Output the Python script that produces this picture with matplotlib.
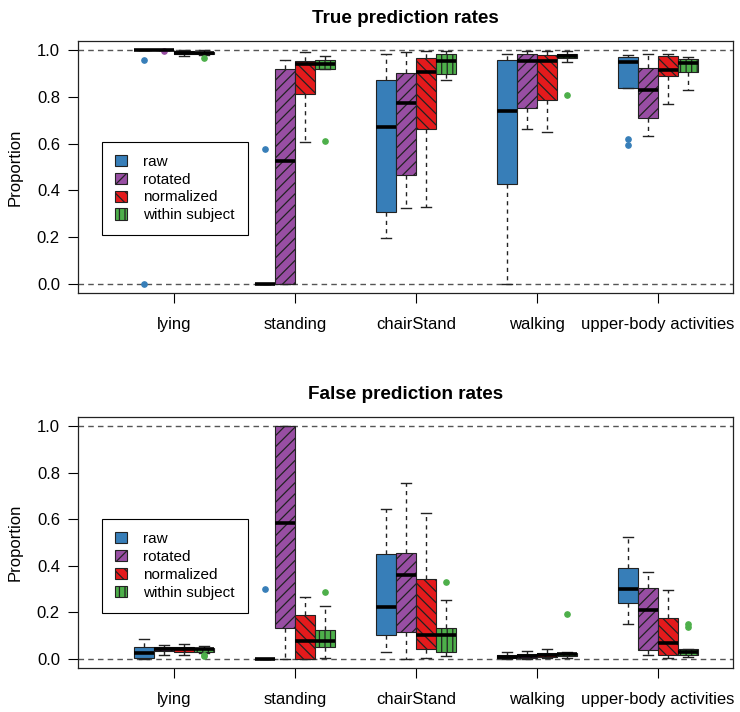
import matplotlib
matplotlib.use("Agg")
import matplotlib.pyplot as plt
from matplotlib.patches import Patch

plt.rcParams['font.family'] = ['Liberation Sans', 'DejaVu Sans']
plt.rcParams['hatch.linewidth'] = 0.9

categories = ["lying", "standing", "chairStand", "walking", "upper-body activities"]
methods = ["raw", "rotated", "normalized", "within subject"]
colors = ["#377EB8", "#984EA3", "#E41A1C", "#4DAF4A"]
hatches = ["", "///", "\\\\\\", "|||"]

# (whislo, q1, median, q3, whishi) per category
true_raw = [(1.0, 1.0, 1.0, 1.0, 1.0), (0.0, 0.0, 0.0, 0.0, 0.0),
            (0.195, 0.305, 0.670, 0.875, 0.983), (0.0, 0.427, 0.741, 0.960, 0.986),
            (0.840, 0.840, 0.949, 0.972, 0.982)]
true_raw_fliers = [[0.960, 0.0], [0.577], [], [], [0.621, 0.594]]
true_rotated = [(1.0, 1.0, 1.0, 1.0, 1.0), (0.0, 0.0, 0.527, 0.920, 0.957),
                (0.323, 0.465, 0.776, 0.903, 0.993), (0.662, 0.751, 0.954, 0.986, 0.997),
                (0.635, 0.712, 0.832, 0.926, 0.986)]
true_rotated_fliers = [[0.998], [], [], [], []]
true_normalized = [(0.975, 0.983, 0.99, 0.996, 1.0), (0.608, 0.815, 0.943, 0.954, 0.993),
                   (0.328, 0.662, 0.907, 0.969, 0.997), (0.650, 0.789, 0.954, 0.982, 0.997),
                   (0.772, 0.889, 0.917, 0.974, 0.983)]
true_normalized_fliers = [[], [], [], [], []]
true_within = [(0.98, 0.986, 0.99, 0.994, 1.0), (0.92, 0.922, 0.94, 0.957, 0.975),
               (0.872, 0.897, 0.954, 0.983, 0.997), (0.950, 0.969, 0.977, 0.986, 0.997),
               (0.829, 0.906, 0.946, 0.963, 0.972)]
true_within_fliers = [[0.967], [0.611], [], [0.809], []]

false_raw = [(0.0, 0.002, 0.026, 0.052, 0.083), (0.0, 0.0, 0.0, 0.0, 0.0),
             (0.029, 0.100, 0.222, 0.450, 0.643), (0.0, 0.002, 0.008, 0.016, 0.030),
             (0.150, 0.238, 0.298, 0.390, 0.522)]
false_raw_fliers = [[], [0.302], [], [], []]
false_rotated = [(0.015, 0.034, 0.040, 0.052, 0.058), (0.0, 0.130, 0.582, 1.0, 1.0),
                 (0.0, 0.116, 0.361, 0.457, 0.755), (0.0, 0.004, 0.012, 0.020, 0.035),
                 (0.015, 0.037, 0.208, 0.304, 0.375)]
false_rotated_fliers = [[], [], [], [], []]
false_normalized = [(0.015, 0.030, 0.043, 0.052, 0.062), (0.0, 0.0, 0.076, 0.189, 0.264),
                    (0.002, 0.043, 0.100, 0.342, 0.629), (0.004, 0.008, 0.016, 0.023, 0.040),
                    (0.003, 0.015, 0.066, 0.176, 0.294)]
false_normalized_fliers = [[], [], [], [], []]
false_within = [(0.025, 0.030, 0.040, 0.047, 0.055), (0.005, 0.052, 0.076, 0.125, 0.226),
                (0.013, 0.027, 0.103, 0.133, 0.254), (0.003, 0.012, 0.019, 0.026, 0.030),
                (0.008, 0.017, 0.030, 0.043, 0.043)]
false_within_fliers = [[0.015, 0.010], [0.285], [0.330], [0.191], [0.148, 0.138]]

panels = [
    ("True prediction rates", [true_raw, true_rotated, true_normalized, true_within],
     [true_raw_fliers, true_rotated_fliers, true_normalized_fliers, true_within_fliers]),
    ("False prediction rates", [false_raw, false_rotated, false_normalized, false_within],
     [false_raw_fliers, false_rotated_fliers, false_normalized_fliers, false_within_fliers]),
]

fig = plt.figure(figsize=(7.4, 7.12), dpi=100)
ax_rects = [[0.1054, 0.5885, 0.8851, 0.3539], [0.1054, 0.0618, 0.8851, 0.3525]]
legend_tops = [0.600, 0.593]

bw = 0.167
edge = "#222222"
for (title, series, fliers), rect, ltop in zip(panels, ax_rects, legend_tops):
    ax = fig.add_axes(rect)
    ax.axhline(0, color="#555555", lw=1.0, ls=(0, (4, 3)), zorder=0)
    ax.axhline(1, color="#555555", lw=1.0, ls=(0, (4, 3)), zorder=0)
    for j, (st, fl) in enumerate(zip(series, fliers)):
        stats = []
        for (lo, q1, med, q3, hi), f in zip(st, fl):
            stats.append(dict(whislo=lo, q1=q1, med=med, q3=q3, whishi=hi, fliers=f))
        pos = [i + 1 + (j - 1.5) * bw for i in range(len(categories))]
        ax.bxp(stats, positions=pos, widths=bw, capwidths=bw * 0.5,
               patch_artist=True, manage_ticks=False,
               boxprops=dict(facecolor=colors[j], edgecolor=edge, lw=0.8, hatch=hatches[j]),
               medianprops=dict(color="black", lw=2.6, solid_capstyle="butt"),
               whiskerprops=dict(color=edge, lw=1.0, ls=(0, (3, 3))),
               capprops=dict(color=edge, lw=1.0),
               flierprops=dict(marker="o", markerfacecolor=colors[j],
                               markeredgecolor=colors[j], markersize=3.8))
    ax.set_xlim(0.207, 5.62)
    ax.set_ylim(-0.04, 1.04)
    ax.set_xticks(range(1, 6))
    ax.set_xticklabels(categories, fontsize=12)
    ax.set_yticks([0, 0.2, 0.4, 0.6, 0.8, 1.0])
    ax.set_yticklabels(["0.0", "0.2", "0.4", "0.6", "0.8", "1.0"], fontsize=12)
    ax.tick_params(axis="x", length=7, width=0.8, direction="out", pad=10)
    ax.tick_params(axis="y", length=7, width=0.8, direction="out", pad=6)
    ax.set_ylabel("Proportion", fontsize=12, labelpad=10)
    ax.set_title(title, fontsize=13.6, fontweight="bold", pad=13)
    for s in ax.spines.values():
        s.set_linewidth(0.9)
        s.set_color("#222222")
    handles = [Patch(facecolor=c, edgecolor=edge, hatch=h, lw=0.8) for c, h in zip(colors, hatches)]
    leg = ax.legend(handles, methods, loc="upper left", bbox_to_anchor=(0.037, ltop),
                    borderaxespad=0, fancybox=False, framealpha=1, edgecolor="black",
                    fontsize=11, handlelength=0.75, handleheight=0.75, handletextpad=1.1,
                    labelspacing=0.25, borderpad=0.85)
    leg.get_frame().set_linewidth(0.8)

fig.savefig("out.png", dpi=100)
